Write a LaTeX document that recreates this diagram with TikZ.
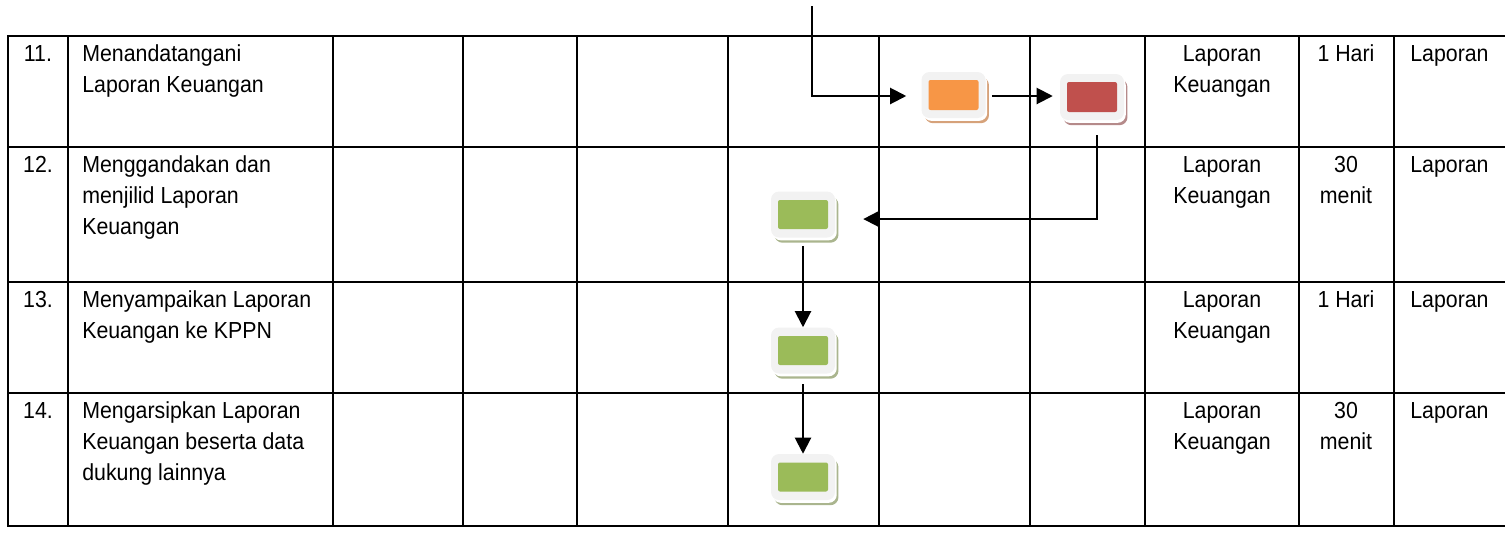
\documentclass[tikz,border=0pt]{standalone}
\usepackage{fontspec}
\setmainfont{Liberation Sans}[FakeStretch=0.92]
\usetikzlibrary{arrows.meta,shadows,calc}
\definecolor{boxgray}{HTML}{F2F2F2}
\definecolor{fillorange}{HTML}{F79646}
\definecolor{fillred}{HTML}{C0504D}
\definecolor{fillgreen}{HTML}{9BBB59}
\definecolor{shadeorange}{HTML}{D6A27A}
\definecolor{shadered}{HTML}{B58A8A}
\definecolor{shadegreen}{HTML}{AAB58E}
\newcommand{\cellfont}{\fontsize{17.4}{23.25}\selectfont}
\tikzset{
  gridline/.style={line width=1.45pt, line cap=rect},
  celltext/.style={font=\cellfont, inner sep=0pt, anchor=north west, align=left},
  celltextc/.style={font=\cellfont, inner sep=0pt, anchor=north, align=center},
  flowbox/.style={fill=boxgray, rounded corners=6pt, minimum width=48pt, minimum height=34.5pt, inner sep=0pt,
    general shadow={fill=#1, shadow xshift=2.6pt, shadow yshift=-3.9pt},
    general shadow={fill=white, shadow xshift=1.3pt, shadow yshift=-2.1pt}},
  arr/.style={line width=1.5pt, -{Triangle[length=12pt,width=12pt]}},
}
\begin{document}
\begin{tikzpicture}[x=0.75pt,y=-0.75pt]
\useasboundingbox (0,0) rectangle (1505,533);
% table grid
\foreach \yy in {36,147,282,393,526} \draw[gridline] (8,\yy) -- (1505,\yy);
\foreach \xx in {8,68,333,463,577,728,879,1030,1145,1299,1394} \draw[gridline] (\xx,36) -- (\xx,526);
% row 11
\node[celltextc] (n11) at (38,40) {\strut 11.};
\node[celltext] (d11) at (82,40) {\strut Menandatangani\\Laporan Keuangan};
\node[celltextc] (o11) at (1222,40) {\strut Laporan\\Keuangan};
\node[celltextc] (t11) at (1346,40) {\strut 1 Hari};
\node[celltext] (p11) at (1410,40) {\strut Laporan};
% row 12
\node[celltextc] (n12) at (38,151) {\strut 12.};
\node[celltext] (d12) at (82,151) {\strut Menggandakan dan\\menjilid Laporan\\Keuangan};
\node[celltextc] (o12) at (1222,151) {\strut Laporan\\Keuangan};
\node[celltextc] (t12) at (1346,151) {\strut 30\\menit};
\node[celltext] (p12) at (1410,151) {\strut Laporan};
% row 13
\node[celltextc] (n13) at (38,286) {\strut 13.};
\node[celltext] (d13) at (82,286) {\strut Menyampaikan Laporan\\Keuangan ke KPPN};
\node[celltextc] (o13) at (1222,286) {\strut Laporan\\Keuangan};
\node[celltextc] (t13) at (1346,286) {\strut 1 Hari};
\node[celltext] (p13) at (1410,286) {\strut Laporan};
% row 14
\node[celltextc] (n14) at (38,397) {\strut 14.};
\node[celltext] (d14) at (82,397) {\strut Mengarsipkan Laporan\\Keuangan beserta data\\dukung lainnya};
\node[celltextc] (o14) at (1222,397) {\strut Laporan\\Keuangan};
\node[celltextc] (t14) at (1346,397) {\strut 30\\menit};
\node[celltext] (p14) at (1410,397) {\strut Laporan};
% flow boxes
\node[flowbox=shadeorange] (ob) at (953.5,95) {};
\fill[fillorange, rounded corners=1.5pt] ($(ob.center)+(-25,-15)$) rectangle ($(ob.center)+(25,15)$);
\node[flowbox=shadered] (rb) at (1092,97) {};
\fill[fillred, rounded corners=1.5pt] ($(rb.center)+(-25,-15)$) rectangle ($(rb.center)+(25,15)$);
\node[flowbox=shadegreen] (g1) at (803,214.5) {};
\fill[fillgreen, rounded corners=1.5pt] ($(g1.center)+(-25,-14.5)$) rectangle ($(g1.center)+(25,14.5)$);
\node[flowbox=shadegreen] (g2) at (803,350.5) {};
\fill[fillgreen, rounded corners=1.5pt] ($(g2.center)+(-25,-14.5)$) rectangle ($(g2.center)+(25,14.5)$);
\node[flowbox=shadegreen] (g3) at (803,477) {};
\fill[fillgreen, rounded corners=1.5pt] ($(g3.center)+(-25,-14.5)$) rectangle ($(g3.center)+(25,14.5)$);
% connectors
\coordinate (topin) at (812,6);
\draw[arr, shorten >=11.25pt] (topin) |- ([yshift=-0.75pt]ob.west);
\draw[arr, shorten <=4.5pt, shorten >=5.25pt] ([yshift=-0.75pt]ob.east) -- ([yshift=0.75pt]rb.west);
\draw[arr] ([xshift=3.75pt, yshift=-11.25pt]rb.south) |- ([xshift=21pt, yshift=-3.4pt]g1.east);
\draw[arr, shorten <=6pt] (g1.south) -- (g2.north);
\draw[arr, shorten <=8pt] (g2.south) -- (g3.north);
\end{tikzpicture}
\end{document}
